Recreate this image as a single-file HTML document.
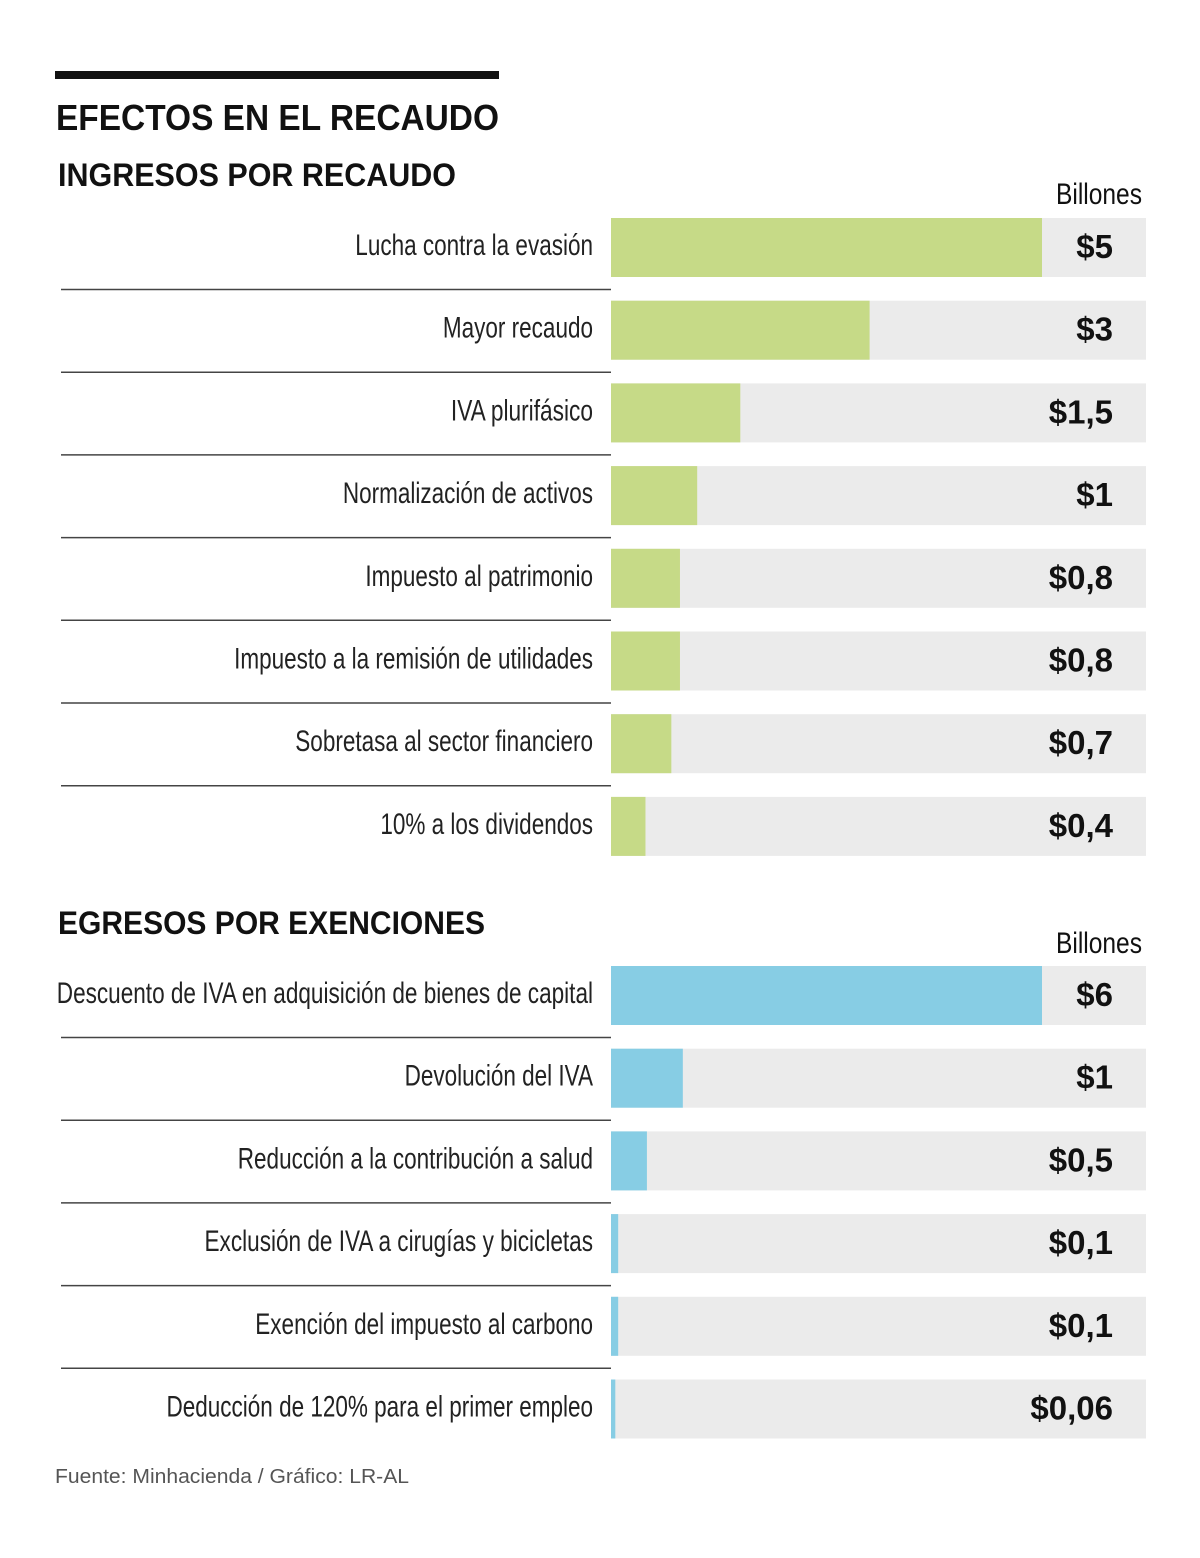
<!DOCTYPE html>
<html><head><meta charset="utf-8"><style>
html,body{margin:0;padding:0;background:#fff;width:1200px;height:1558px;overflow:hidden}
svg{display:block}
text{font-family:"Liberation Sans",sans-serif}
</style></head><body>
<svg id="chart" width="1200" height="1558" viewBox="0 0 1200 1558" xmlns="http://www.w3.org/2000/svg">
<rect x="55" y="71" width="444" height="8" fill="#111"/>
<text x="56" y="130" font-size="36" font-weight="bold" fill="#111" textLength="443" lengthAdjust="spacingAndGlyphs">EFECTOS EN EL RECAUDO</text>
<text x="58" y="186" font-size="32" font-weight="bold" fill="#111" textLength="398" lengthAdjust="spacingAndGlyphs">INGRESOS POR RECAUDO</text>
<text x="1142" y="204" font-size="30" fill="#111" text-anchor="end" textLength="86" lengthAdjust="spacingAndGlyphs">Billones</text>
<text x="58" y="934" font-size="32" font-weight="bold" fill="#111" textLength="427" lengthAdjust="spacingAndGlyphs">EGRESOS POR EXENCIONES</text>
<text x="1142" y="953" font-size="30" fill="#111" text-anchor="end" textLength="86" lengthAdjust="spacingAndGlyphs">Billones</text>
<text x="55" y="1483" font-size="20" fill="#555" textLength="354" lengthAdjust="spacingAndGlyphs">Fuente: Minhacienda / Gráfico: LR-AL</text>
<g id="g1"></g><g id="g2"></g>
</svg>
<script>
const incomeCategories=["Lucha contra la evasión","Mayor recaudo","IVA plurifásico","Normalización de activos","Impuesto al patrimonio","Impuesto a la remisión de utilidades","Sobretasa al sector financiero","10% a los dividendos"];
const incomeValues=[5,3,1.5,1,0.8,0.8,0.7,0.4];
const incomeLabels=["$5","$3","$1,5","$1","$0,8","$0,8","$0,7","$0,4"];
const expenseCategories=["Descuento de IVA en adquisición de bienes de capital","Devolución del IVA","Reducción a la contribución a salud","Exclusión de IVA a cirugías y bicicletas","Exención del impuesto al carbono","Deducción de 120% para el primer empleo"];
const expenseValues=[6,1,0.5,0.1,0.1,0.06];
const expenseLabels=["$6","$1","$0,5","$0,1","$0,1","$0,06"];
const NS="http://www.w3.org/2000/svg";
function mk(tag,attrs,parent){const e=document.createElementNS(NS,tag);for(const k in attrs)e.setAttribute(k,attrs[k]);parent.appendChild(e);return e;}
function measure(txt,size){const c=document.createElement('canvas').getContext('2d');c.font=size+'px "Liberation Sans", sans-serif';return c.measureText(txt).width;}
function draw(gid,cats,vals,labs,top,maxV,color,prefix){
  const g=document.getElementById(gid);
  const x0=611,full=431,step=82.7,h=59;
  const xs=v=>x0+v/maxV*full;
  cats.forEach((c,i)=>{
    const y=top+i*step;
    const bg=mk('rect',{x:x0,y:y,width:535,height:h,fill:'#ebebeb'},g);
    
    
    const b=mk('rect',{x:x0,y:y,width:Math.max(0,xs(vals[i])-x0),height:h,fill:color},g);
    
    
    const t=mk('text',{x:593,y:y+37,'font-size':30,fill:'#222','text-anchor':'end',textLength:(measure(c,30)*0.75).toFixed(1),lengthAdjust:'spacingAndGlyphs'},g);
    t.textContent=c;
    
    
    const v=mk('text',{x:1113,y:y+40,'font-size':33,'font-weight':'bold',fill:'#111','text-anchor':'end'},g);
    v.textContent=labs[i];
    
    
    if(i<cats.length-1){
      const l=mk('line',{x1:61,x2:611,y1:y+h+12.5,y2:y+h+12.5,stroke:'#444','stroke-width':1.5},g);
      
      
    }
  });
}
draw('g1',incomeCategories,incomeValues,incomeLabels,218,Math.max(...incomeValues),'#c6da87','income');
draw('g2',expenseCategories,expenseValues,expenseLabels,966,Math.max(...expenseValues),'#87cde4','expense');
</script>
</body></html>
